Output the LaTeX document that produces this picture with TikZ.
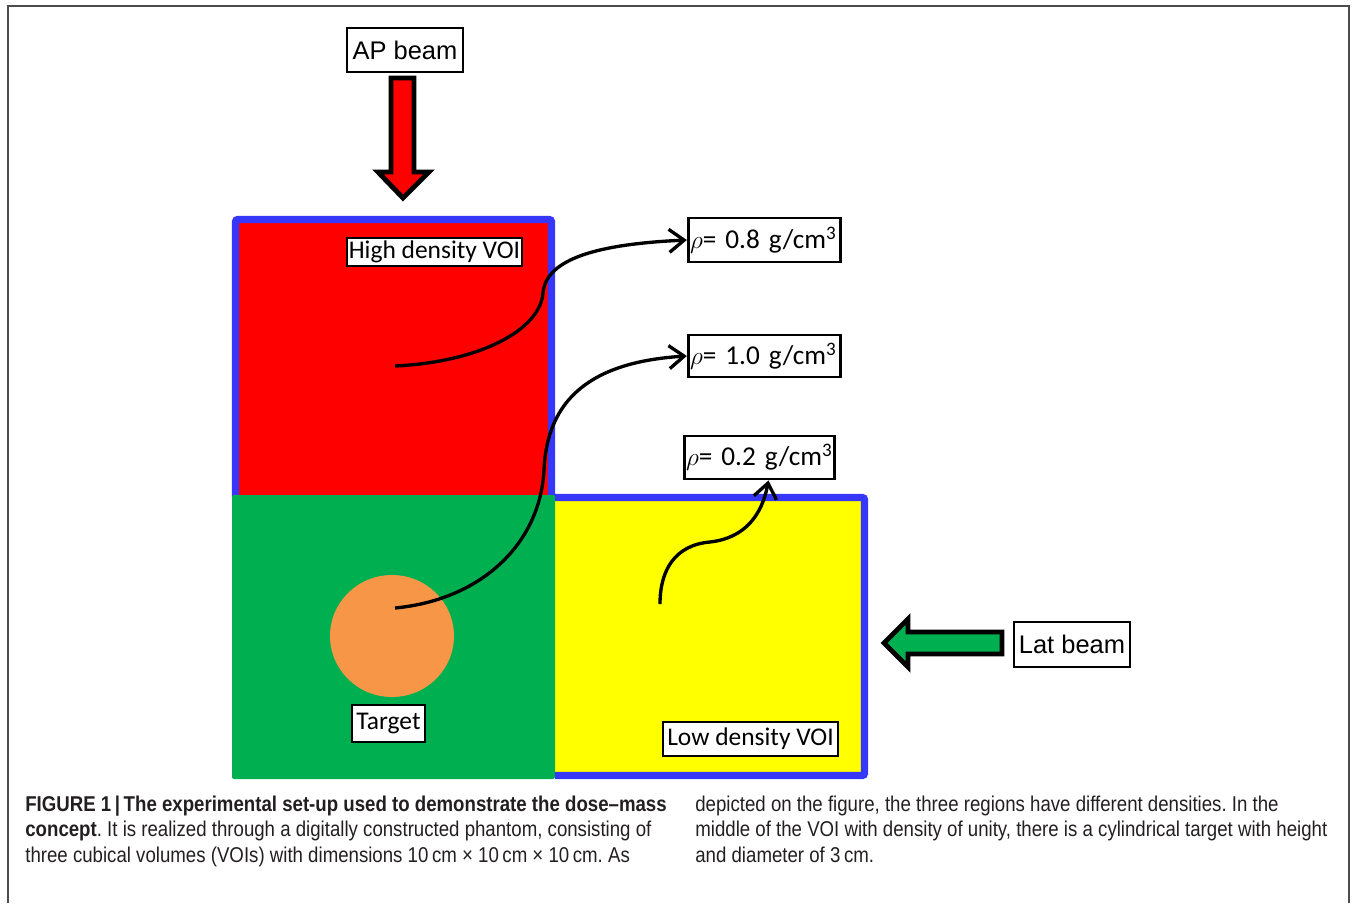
\documentclass[tikz,border=0pt]{standalone}
\usepackage{fontspec}
\setmainfont{Carlito}
\newfontfamily\arialfont{Liberation Sans}
\newfontfamily\capfont[FakeStretch=0.87]{Liberation Sans}
\usetikzlibrary{arrows.meta}
\frenchspacing

\definecolor{voiblue}{RGB}{55,55,250}
\definecolor{voired}{RGB}{255,0,0}
\definecolor{voigreen}{RGB}{0,176,80}
\definecolor{voiyellow}{RGB}{255,255,0}
\definecolor{targetorange}{RGB}{247,150,70}
\definecolor{captext}{RGB}{35,31,32}

\begin{document}
\begin{tikzpicture}[x=0.02cm, y=-0.02cm,
  tag/.style={draw, line width=1.6pt, fill=white, inner xsep=1pt, inner ysep=0pt,
    font=\fontsize{14.5}{16}\selectfont},
  rhotag/.style={tag, font=\fontsize{15.5}{17}\selectfont},
  beamtag/.style={tag, font=\arialfont\fontsize{14.5}{16}\selectfont},
  beamarrow/.style={draw, line width=2.8pt, line join=miter},
  link/.style={line width=1.9pt, -{Straight Barb[length=3mm,width=4.6mm,line width=1.9pt]}},
  caption/.style={anchor=base west, inner sep=0pt, text=captext,
    font=\capfont\fontsize{12.2}{14}\selectfont}]
  \useasboundingbox (0,0) rectangle (1356,903);

  % Frame
  \draw[black!70, line width=0.8pt] (8,903) -- (8,6) -- (1349,6) -- (1349,903);

  % Phantom regions
  \draw[voiblue, fill=voired, line width=4pt, rounded corners=0.04cm] (235.5,497) -- (235.5,219.5) -- (551.5,219.5) -- (551.5,497);
  \draw[voiblue, fill=voiyellow, line width=4pt, rounded corners=0.04cm] (552,497.5) -- (864.5,497.5) -- (864.5,775.5) -- (555,775.5);
  \fill[voigreen, rounded corners=0.04cm] (232,495) rectangle (555,779);
  \fill[targetorange] (392,636) ellipse [x radius=1.24cm, y radius=1.22cm];

  % Beams
  \node[beamtag, minimum width=2.32cm, minimum height=0.88cm] (apbeam) at (405,50) {AP beam};
  \draw[beamarrow, fill=voired] (391,78) -- (414,78) -- (414,172) -- (429,172) -- (403,198) -- (378,172) -- (391,172) -- cycle;
  \node[beamtag, minimum width=2.32cm, minimum height=0.9cm] (latbeam) at (1072,644.5) {Lat beam};
  \draw[beamarrow, fill=voigreen] (1002,632) -- (1002,654) -- (908,654) -- (908,667) -- (884,643) -- (908,619) -- (908,632) -- cycle;

  % Labels
  \node[tag, minimum width=3.5cm, minimum height=0.56cm] (high) at (434.5,252) {High density VOI};
  \node[tag, minimum width=1.46cm, minimum height=0.74cm] (target) at (388.5,723.5) {Target};
  \node[tag, minimum width=3.5cm, minimum height=0.68cm] (low) at (750.5,739) {Low density VOI};
  \node[rhotag, text width=2.98cm, minimum height=0.88cm] (rho08) at (764.5,240) {$\rho$= 0.8 g/cm\textsuperscript{3}};
  \node[rhotag, text width=2.98cm, minimum height=0.84cm] (rho10) at (764.5,356) {$\rho$= 1.0 g/cm\textsuperscript{3}};
  \node[rhotag, text width=2.94cm, minimum height=0.86cm] (rho02) at (759.5,457.5) {$\rho$= 0.2 g/cm\textsuperscript{3}};

  % Density links
  \coordinate (highpt) at (395,366);
  \coordinate (targetpt) at (395,608);
  \coordinate (lowpt) at (660,604);
  \draw[link] (highpt) .. controls (480,362) and (540,330) .. (543,293) .. controls (546,258) and (600,244) .. (rho08.west);
  \draw[link] (targetpt) .. controls (480,600) and (540,545) .. (544,470) .. controls (547,400) and (590,362) .. (rho10.west);
  \draw[link] (lowpt) .. controls (660,570) and (675,545) .. (710,542) .. controls (745,538) and (762,515) .. ([xshift=0.18cm]rho02.south);

  % Caption
  \node[caption] (cap1) at (25,811) {\bfseries FIGURE 1\,|\,The experimental set-up used to demonstrate the dose–mass};
  \node[caption] (cap2) at (25,836) {\textbf{concept}. It is realized through a digitally constructed phantom, consisting of};
  \node[caption] (cap3) at (25,862) {three cubical volumes (VOIs) with dimensions 10\,cm × 10\,cm × 10\,cm. As};
  \node[caption] (cap4) at (695,811) {depicted on the figure, the three regions have different densities. In the};
  \node[caption] (cap5) at (695,836) {middle of the VOI with density of unity, there is a cylindrical target with height};
  \node[caption] (cap6) at (695,862) {and diameter of 3\,cm.};
\end{tikzpicture}
\end{document}
